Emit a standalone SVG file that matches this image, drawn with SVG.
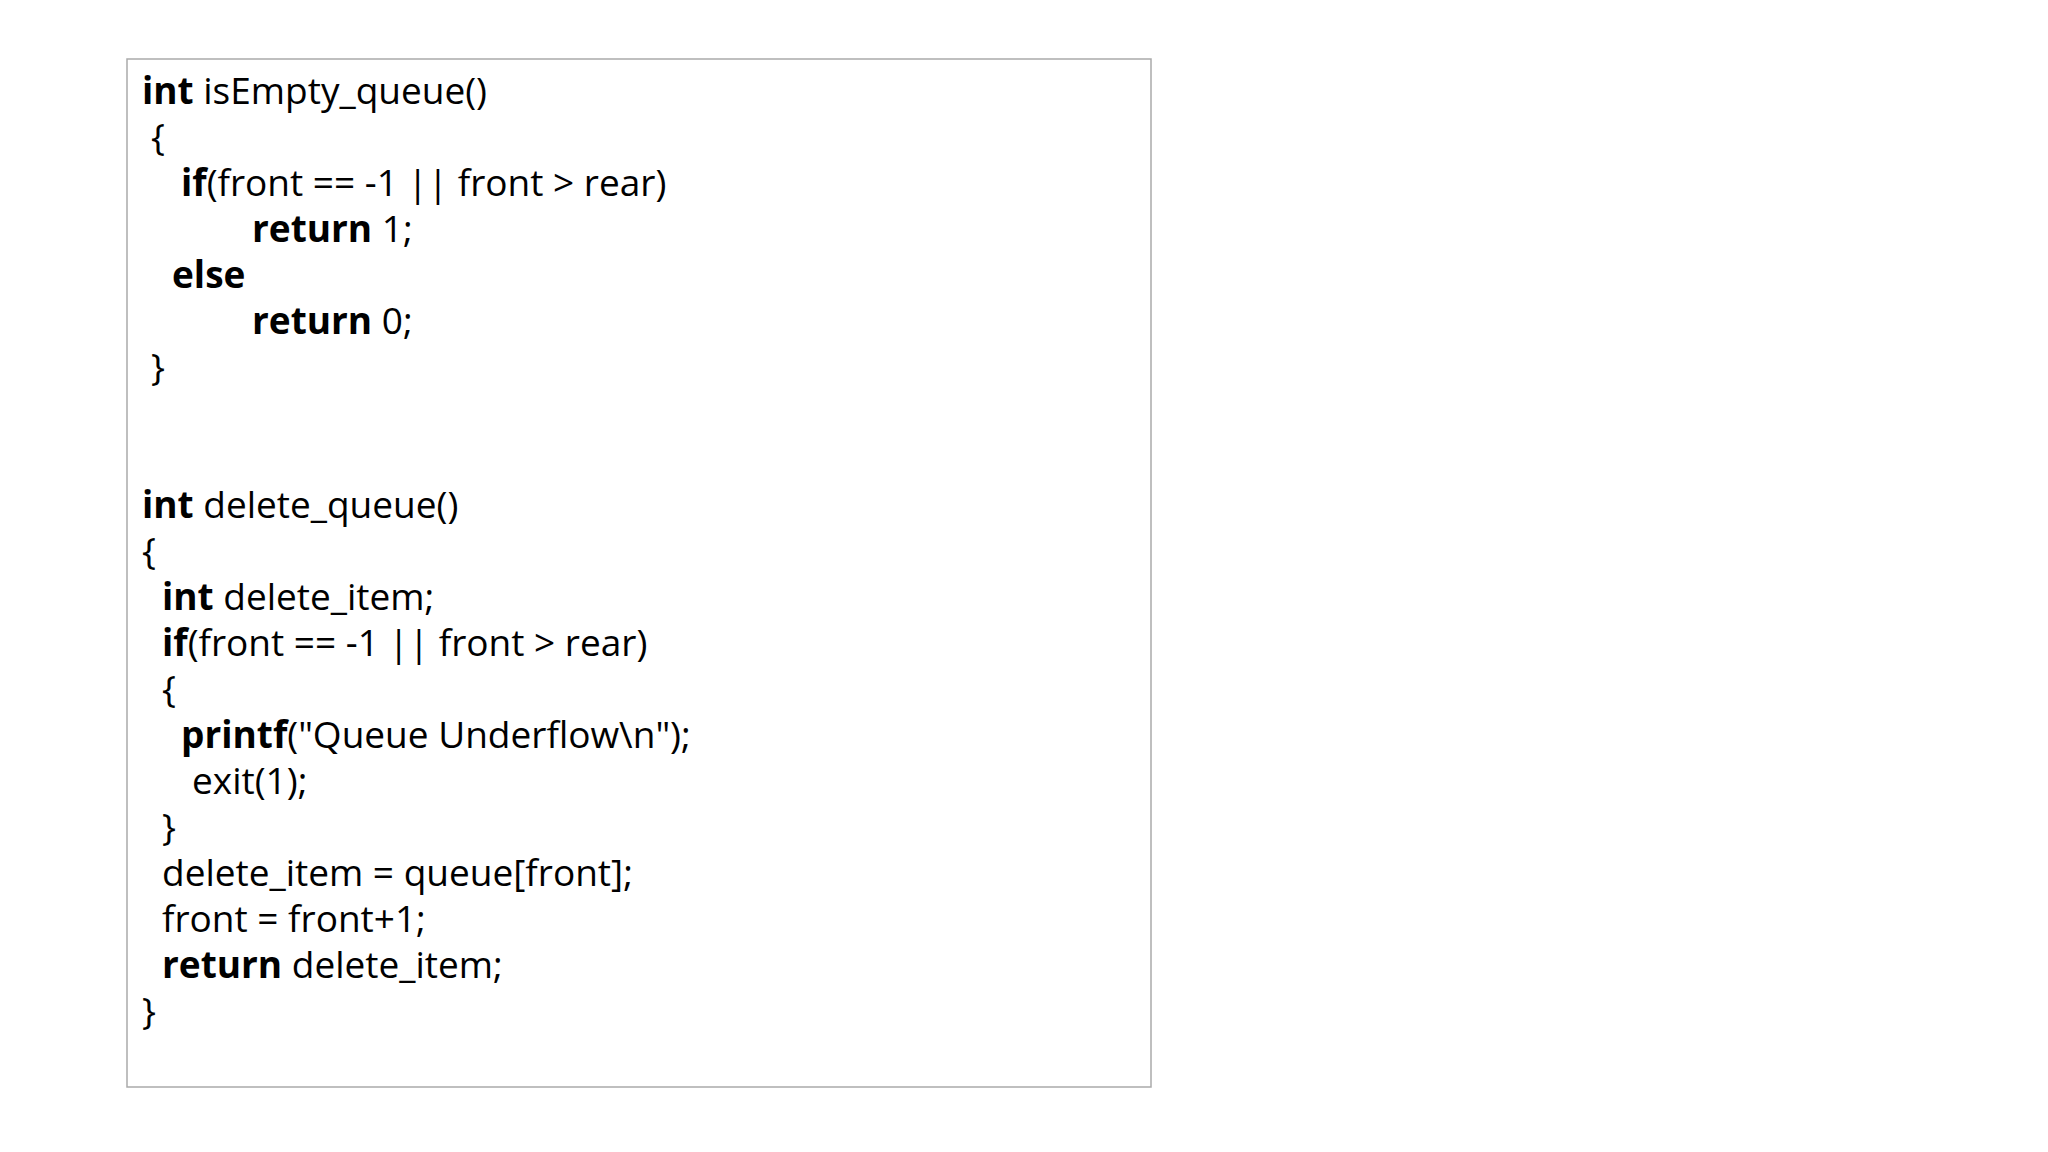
<svg xmlns="http://www.w3.org/2000/svg" width="2048" height="1152" viewBox="0 0 2048 1152">
<style>
text{font-family:"Open Sans","Noto Sans",sans-serif;font-size:37px;fill:#000}
.b{font-weight:bold}
</style>
<rect width="2048" height="1152" fill="#fff"/>
<g id="code-box">
<rect x="127" y="59" width="1024" height="1028" fill="#fff" stroke="#aaa" stroke-width="1.5"/>
<text x="142" y="104"><tspan class="b">int</tspan> isEmpty_queue()</text>
<text x="151" y="150">{</text>
<text x="181" y="196"><tspan class="b">if</tspan>(front == -1 || front &gt; rear)</text>
<text x="252" y="242"><tspan class="b">return</tspan> 1;</text>
<text x="172" y="288" class="b">else</text>
<text x="252" y="334"><tspan class="b">return</tspan> 0;</text>
<text x="151" y="380">}</text>
<text x="142" y="518"><tspan class="b">int</tspan> delete_queue()</text>
<text x="142" y="564">{</text>
<text x="162" y="610"><tspan class="b">int</tspan> delete_item;</text>
<text x="162" y="656"><tspan class="b">if</tspan>(front == -1 || front &gt; rear)</text>
<text x="162" y="702">{</text>
<text x="181" y="748"><tspan class="b">printf</tspan>("Queue Underflow\n");</text>
<text x="192" y="794">exit(1);</text>
<text x="162" y="840">}</text>
<text x="162" y="886">delete_item = queue[front];</text>
<text x="162" y="932">front = front+1;</text>
<text x="162" y="978"><tspan class="b">return</tspan> delete_item;</text>
<text x="142" y="1024">}</text>
</g>
</svg>
